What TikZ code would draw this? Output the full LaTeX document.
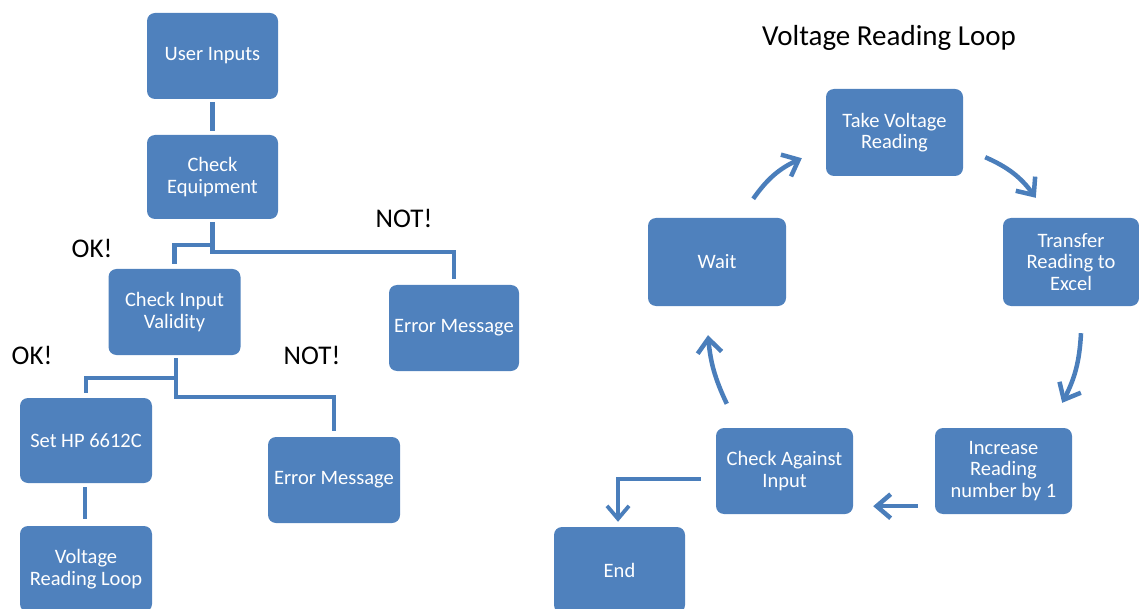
\documentclass[tikz,border=0pt]{standalone}
\usepackage{fontspec}
\setmainfont{Carlito}
\usetikzlibrary{arrows.meta}
\definecolor{boxblue}{HTML}{4F81BD}
\definecolor{lineblue}{HTML}{4A7EBB}
\begin{document}
\begin{tikzpicture}[x=1pt,y=-1pt,
  box/.style={rectangle, rounded corners=8pt, fill=boxblue, text=white, align=center,
    inner sep=0pt, font=\fontsize{20.5}{21.5}\selectfont},
  conn/.style={draw=lineblue, line width=4.5pt},
  cyc/.style={draw=lineblue, line width=4.5pt,
    -{Straight Barb[length=14pt,width=24pt]}},
  lbl/.style={font=\fontsize{27}{30}\selectfont, text=black, inner sep=0pt}]
\useasboundingbox (0,0) rectangle (1139,609);
% left flow
\node[box, minimum width=131pt, minimum height=86pt] (ui) at (212.5,56) {User Inputs};
\node[box, minimum width=131pt, minimum height=84pt] (ce) at (212.5,177) {Check\\Equipment};
\node[box, minimum width=132pt, minimum height=86pt] (civ) at (174.5,312) {Check Input\\Validity};
\node[box, minimum width=130pt, minimum height=86pt] (em1) at (454,328) {Error Message};
\node[box, minimum width=132pt, minimum height=85pt] (sethp) at (86,440.5) {Set HP 6612C};
\node[box, minimum width=132pt, minimum height=86pt] (vrl) at (86,569) {Voltage\\Reading Loop};
\node[box, minimum width=132pt, minimum height=86pt] (em2) at (334,480) {Error Message};
\node[lbl] (ok1) at (92,248) {OK!};
\node[lbl] (not1) at (404,218) {NOT!};
\node[lbl] (ok2) at (32,355) {OK!};
\node[lbl] (not2) at (312,355) {NOT!};
\coordinate (j1) at (212.5,245);
\coordinate (j2) at (212.5,252);
\coordinate (k1) at (176,378);
\coordinate (k2) at (176,397);
\draw[conn] ([yshift=-3pt]ui.south) -- ([yshift=4pt]ce.north);
\draw[conn] ([yshift=-3pt]ce.south) -- (j2) -| ([yshift=6pt]em1.north);
\draw[conn] (j1) -| ([yshift=5pt]civ.north);
\draw[conn] ([yshift=-3pt,xshift=1.5pt]civ.south) -- (k2) -| ([yshift=6pt]em2.north);
\draw[conn] (k1) -| ([yshift=5pt]sethp.north);
\draw[conn] ([yshift=-4pt,xshift=-1pt]sethp.south) -- ([yshift=7pt,xshift=-1pt]vrl.north);
% right loop
\node[lbl, font=\fontsize{29}{32}\selectfont] (title) at (889,38) {Voltage Reading Loop};
\node[box, minimum width=137pt, minimum height=87pt] (take) at (894.5,132.5) {Take Voltage\\Reading};
\node[box, minimum width=138pt, minimum height=88pt] (wait) at (717,262) {Wait};
\node[box, minimum width=136pt, minimum height=88pt] (transfer) at (1071,262) {Transfer\\Reading to\\Excel};
\node[box, minimum width=137pt, minimum height=86pt] (incr) at (1003.5,471) {Increase\\Reading\\number by 1};
\node[box, minimum width=137pt, minimum height=86pt] (cai) at (784.5,471) {Check Against\\Input};
\node[box, minimum width=131pt, minimum height=86pt] (end) at (619.5,570) {End};
\draw[cyc] ([xshift=-33pt,yshift=19pt]wait.north east) to[bend left=15] ([xshift=-24pt,yshift=18pt]take.south west);
\draw[cyc] ([xshift=22pt,yshift=19pt]take.south east) to[bend left=15] ([xshift=33pt,yshift=20pt]transfer.north west);
\draw[cyc] ([xshift=10pt,yshift=-27pt]transfer.south) to[bend left=12] ([xshift=-10pt,yshift=25pt]incr.north east);
\draw[cyc] ([xshift=-17pt,yshift=8pt]incr.south west) -- ([xshift=20pt,yshift=8pt]cai.south east);
\draw[cyc] ([xshift=11pt,yshift=24pt]cai.north west) to[bend left=10] ([xshift=-9pt,yshift=-29pt]wait.south);
\draw[draw=lineblue, line width=3.8pt, -{Straight Barb[length=13pt,width=22pt]}]
  ([xshift=-15pt,yshift=-8pt]cai.west) -| ([xshift=-1.5pt,yshift=5pt]end.north);
\end{tikzpicture}
\end{document}
